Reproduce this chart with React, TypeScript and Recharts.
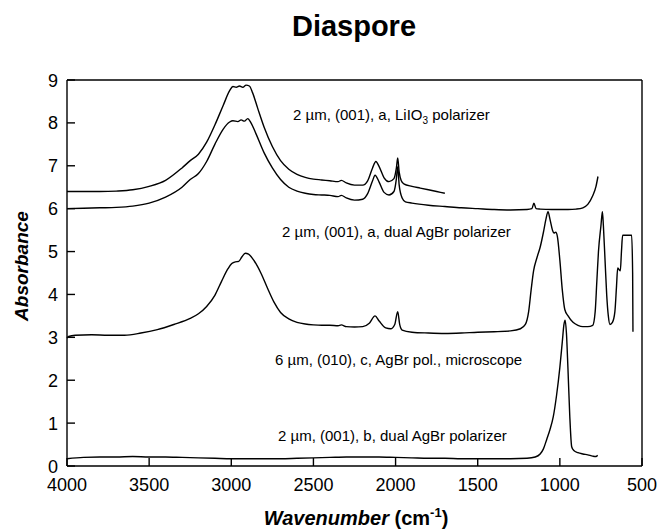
import React from 'react';
import { LineChart, Line, XAxis, YAxis } from 'recharts';

// wavenumber (cm-1) / absorbance pairs
const liio3X = [4000, 3900, 3800, 3700, 3600, 3500, 3400, 3300, 3250, 3200, 3150, 3100, 3050, 3010, 2990, 2970, 2950, 2930, 2910, 2890, 2870, 2840, 2800, 2750, 2700, 2650, 2600, 2550, 2500, 2450, 2400, 2350, 2330, 2300, 2250, 2200, 2170, 2140, 2120, 2100, 2070, 2040, 2010, 1995, 1987, 1978, 1965, 1950, 1900, 1850, 1800, 1750, 1700];
const liio3Y = [6.40, 6.40, 6.40, 6.41, 6.44, 6.52, 6.66, 6.95, 7.12, 7.27, 7.55, 7.95, 8.40, 8.75, 8.85, 8.83, 8.86, 8.83, 8.88, 8.86, 8.70, 8.35, 7.90, 7.45, 7.12, 6.92, 6.80, 6.73, 6.69, 6.67, 6.65, 6.63, 6.66, 6.60, 6.55, 6.55, 6.65, 6.95, 7.10, 6.98, 6.72, 6.63, 6.70, 6.95, 7.18, 6.85, 6.65, 6.58, 6.52, 6.48, 6.44, 6.40, 6.36];

const agbrAX = [4000, 3900, 3800, 3700, 3600, 3500, 3400, 3300, 3250, 3200, 3150, 3100, 3050, 3010, 2990, 2960, 2940, 2920, 2900, 2880, 2850, 2800, 2750, 2700, 2650, 2600, 2550, 2500, 2450, 2400, 2350, 2330, 2300, 2250, 2200, 2170, 2140, 2125, 2100, 2070, 2040, 2010, 1995, 1987, 1978, 1960, 1940, 1900, 1800, 1700, 1600, 1500, 1400, 1300, 1200, 1170, 1158, 1145, 1120, 1050, 1000, 950, 900, 860, 830, 800, 780, 768];
const agbrAY = [6.00, 6.01, 6.02, 6.03, 6.06, 6.13, 6.27, 6.50, 6.68, 6.82, 7.10, 7.50, 7.85, 8.02, 8.05, 8.03, 8.07, 8.04, 8.10, 8.00, 7.75, 7.30, 6.95, 6.68, 6.50, 6.41, 6.36, 6.33, 6.32, 6.31, 6.28, 6.31, 6.25, 6.20, 6.22, 6.35, 6.65, 6.78, 6.62, 6.38, 6.32, 6.40, 6.70, 6.98, 6.55, 6.25, 6.16, 6.13, 6.08, 6.05, 6.02, 6.00, 5.98, 5.97, 5.98, 6.00, 6.13, 6.00, 5.99, 5.98, 5.98, 5.98, 5.99, 6.02, 6.10, 6.30, 6.52, 6.75];

const micX = [4000, 3990, 3950, 3850, 3750, 3650, 3550, 3450, 3350, 3250, 3200, 3150, 3100, 3060, 3020, 2997, 2975, 2955, 2935, 2915, 2895, 2860, 2820, 2780, 2740, 2700, 2650, 2600, 2550, 2500, 2450, 2400, 2350, 2330, 2300, 2250, 2200, 2160, 2125, 2100, 2060, 2030, 2005, 1987, 1975, 1960, 1900, 1800, 1700, 1600, 1500, 1400, 1300, 1240, 1210, 1190, 1175, 1160, 1140, 1120, 1100, 1085, 1072, 1060, 1045, 1036, 1025, 1015, 1000, 985, 970, 950, 920, 890, 860, 830, 800, 785, 775, 765, 750, 741, 735, 725, 715, 705, 695, 680, 665, 655, 648, 640, 632, 625, 618, 590, 563, 557, 555];
const micY = [2.98, 3.02, 3.05, 3.06, 3.05, 3.05, 3.10, 3.18, 3.30, 3.44, 3.55, 3.72, 3.98, 4.30, 4.60, 4.72, 4.76, 4.77, 4.88, 4.96, 4.94, 4.78, 4.50, 4.15, 3.82, 3.58, 3.43, 3.35, 3.31, 3.29, 3.28, 3.28, 3.27, 3.29, 3.25, 3.24, 3.25, 3.33, 3.50, 3.38, 3.22, 3.20, 3.30, 3.60, 3.30, 3.17, 3.12, 3.10, 3.09, 3.10, 3.12, 3.13, 3.15, 3.20, 3.30, 3.60, 4.10, 4.55, 4.85, 5.10, 5.45, 5.75, 5.93, 5.75, 5.50, 5.43, 5.45, 5.35, 4.80, 4.10, 3.65, 3.50, 3.35, 3.28, 3.25, 3.25, 3.28, 3.60, 4.30, 5.00, 5.60, 5.93, 5.60, 4.80, 4.00, 3.50, 3.30, 3.35, 3.60, 4.20, 4.62, 4.58, 4.55, 5.00, 5.38, 5.38, 5.38, 4.50, 3.13];

const agbrBX = [4000, 3900, 3800, 3700, 3600, 3500, 3400, 3300, 3200, 3100, 3000, 2900, 2800, 2700, 2600, 2500, 2400, 2300, 2200, 2100, 2000, 1900, 1800, 1700, 1600, 1500, 1400, 1300, 1200, 1150, 1120, 1100, 1080, 1060, 1040, 1020, 1000, 985, 975, 968, 960, 951, 940, 928, 915, 890, 860, 830, 800, 780, 770];
const agbrBY = [0.17, 0.20, 0.21, 0.21, 0.22, 0.21, 0.21, 0.20, 0.19, 0.18, 0.17, 0.17, 0.17, 0.17, 0.18, 0.19, 0.20, 0.21, 0.21, 0.21, 0.20, 0.19, 0.18, 0.18, 0.17, 0.17, 0.17, 0.17, 0.18, 0.21, 0.28, 0.40, 0.62, 0.85, 1.15, 1.65, 2.30, 2.90, 3.30, 3.40, 3.10, 2.30, 1.20, 0.45, 0.36, 0.31, 0.28, 0.26, 0.23, 0.22, 0.25];

const majorX = [4000, 3500, 3000, 2500, 2000, 1500, 1000, 500];
const majorY = [0, 1, 2, 3, 4, 5, 6, 7, 8, 9];

const toPoints = (xs: number[], ys: number[]) => xs.map((x, i) => ({ x, y: ys[i] }));

const minorX: number[] = [];
for (let v = 4000; v >= 500; v -= 100) minorX.push(v);
const minorY: number[] = [];
for (let i = 0; i <= 45; i++) minorY.push(Number((i * 0.2).toFixed(1)));

const FONT = '"Liberation Sans", Arial, Helvetica, sans-serif';
const AXIS = { stroke: '#000', strokeWidth: 1.4 };

const BottomLabel = (props: any) => {
  const { x, y, payload } = props;
  return (
    <text x={x} y={y + 25} textAnchor="middle" fontSize={18} fontFamily={FONT} fill="#000">
      {payload.value}
    </text>
  );
};

const LeftLabel = (props: any) => {
  const { x, y, payload } = props;
  return (
    <text x={x - 9} y={y + 6.5} textAnchor="end" fontSize={18} fontFamily={FONT} fill="#000">
      {payload.value}
    </text>
  );
};

const series = [
  toPoints(liio3X, liio3Y),
  toPoints(agbrAX, agbrAY),
  toPoints(micX, micY),
  toPoints(agbrBX, agbrBY),
];

// axes only draw their ticks when a series is bound to them, so the
// secondary (tick-only) axes each get an invisible copy of a spectrum
const helperAxes = [
  { x: 't', y: 'lm' },
  { x: 'tm', y: 'r' },
  { x: 'bm', y: 'r' },
];

const xCommon = { type: 'number' as const, dataKey: 'x', domain: [500, 4000], reversed: true, interval: 0 as const, height: 1 };
const yCommon = { type: 'number' as const, domain: [0, 9], interval: 0 as const, width: 1 };

const App: React.FC = () => {
  return (
    <div style={{ position: 'absolute', left: 0, top: 0, width: 658, height: 531, background: '#fff' }}>
      <LineChart width={658} height={531} margin={{ top: 78, right: 15, bottom: 63, left: 65 }}>
        <XAxis
          {...xCommon}
          xAxisId="b"
          ticks={majorX}
          tickSize={-8}
          tickMargin={8}
          tickLine={AXIS}
          tick={(p: any) => <BottomLabel {...p} />}
          axisLine={AXIS}
        />
        <XAxis {...xCommon} xAxisId="bm" ticks={minorX} tickSize={-5} tickLine={AXIS} tick={false} axisLine={false} />
        <XAxis
          {...xCommon}
          xAxisId="t"
          orientation="top"
          ticks={majorX}
          tickSize={-8}
          tickLine={AXIS}
          tick={false}
          axisLine={AXIS}
        />
        <XAxis {...xCommon} xAxisId="tm" orientation="top" ticks={minorX} tickSize={-5} tickLine={AXIS} tick={false} axisLine={false} />
        <YAxis
          {...yCommon}
          yAxisId="l"
          ticks={majorY}
          tickSize={-8}
          tickMargin={8}
          tickLine={AXIS}
          tick={(p: any) => <LeftLabel {...p} />}
          axisLine={AXIS}
        />
        <YAxis {...yCommon} yAxisId="lm" ticks={minorY} tickSize={-5} tickLine={AXIS} tick={false} axisLine={false} />
        <YAxis {...yCommon} yAxisId="r" orientation="right" tick={false} tickLine={false} axisLine={AXIS} />
        {helperAxes.map((a) => (
          <Line
            key={a.x + a.y}
            xAxisId={a.x}
            yAxisId={a.y}
            data={series[3]}
            dataKey="y"
            stroke="none"
            strokeWidth={0}
            dot={false}
            activeDot={false}
            legendType="none"
            isAnimationActive={false}
          />
        ))}
        {series.map((d, i) => (
          <Line
            key={i}
            xAxisId="b"
            yAxisId="l"
            data={d}
            dataKey="y"
            type="monotone"
            stroke="#000"
            strokeWidth={1.4}
            dot={false}
            activeDot={false}
            isAnimationActive={false}
          />
        ))}
      </LineChart>
      <svg
        width={658}
        height={531}
        style={{ position: 'absolute', left: 0, top: 0, pointerEvents: 'none' }}
        fontFamily={FONT}
      >
        <text x={354} y={36} textAnchor="middle" fontSize={29} fontWeight="bold">Diaspore</text>
        <text x={28} y={266} textAnchor="middle" fontSize={19} fontWeight="bold" fontStyle="italic" transform="rotate(-90, 28, 266)">
          Absorbance
        </text>
        <text x={356} y={525} textAnchor="middle" fontSize={20} fontWeight="bold">
          <tspan fontStyle="italic">Wavenumber</tspan>
          <tspan> (cm</tspan>
          <tspan fontSize={13} dy={-8}>-1</tspan>
          <tspan dy={8}>)</tspan>
        </text>
        <text x={293} y={120} fontSize={15}>
          2 µm, (001), a, LiIO<tspan fontSize={10} dy={4}>3</tspan><tspan dy={-4}> polarizer</tspan>
        </text>
        <text x={282} y={237} fontSize={15}>2 µm, (001), a, dual AgBr polarizer</text>
        <text x={275} y={365} fontSize={15}>6 µm, (010), c, AgBr pol., microscope</text>
        <text x={278} y={441} fontSize={15}>2 µm, (001), b, dual AgBr polarizer</text>
      </svg>
    </div>
  );
};

export default App;
